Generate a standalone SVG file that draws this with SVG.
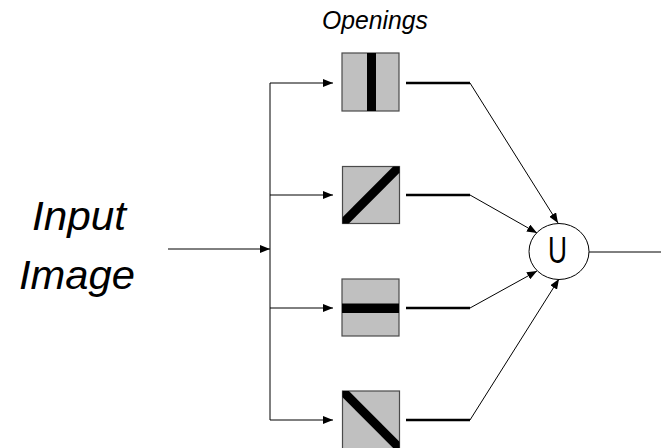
<svg xmlns="http://www.w3.org/2000/svg" width="661" height="448" viewBox="0 0 661 448">
<style>
.box{fill:#c0c0c0;stroke:#4a4a4a;stroke-width:1.2}
.bar{stroke:#000;stroke-width:9;fill:none}
.thin{stroke:#000;stroke-width:1;fill:none}
.thick{stroke:#000;stroke-width:2.5;fill:none}
.lbl{font-family:"Liberation Sans",Arial,sans-serif;font-style:italic;fill:#000}
</style>
<defs>
<marker id="ah" viewBox="0 0 10 8" refX="10" refY="4" markerWidth="10" markerHeight="8" markerUnits="userSpaceOnUse" orient="auto">
<path d="M0,0 L10,4 L0,8 z" fill="#000"/>
</marker>
<clipPath id="c2"><rect x="342.5" y="166.5" width="57" height="57"/></clipPath>
<clipPath id="c4"><rect x="342.5" y="391" width="57" height="57"/></clipPath>
</defs>
<text class="lbl" x="375" y="29" font-size="26" text-anchor="middle" textLength="106" lengthAdjust="spacingAndGlyphs">Openings</text>
<text class="lbl" x="79" y="230" font-size="40" text-anchor="middle" textLength="94" lengthAdjust="spacingAndGlyphs">Input</text>
<text class="lbl" x="77" y="289" font-size="40" text-anchor="middle" textLength="116" lengthAdjust="spacingAndGlyphs">Image</text>
<g id="connectors">
<line class="thin" x1="168" y1="249" x2="270" y2="249" marker-end="url(#ah)"/>
<line class="thin" x1="270" y1="83" x2="270" y2="420"/>
<line class="thin" x1="270" y1="83" x2="333" y2="83" marker-end="url(#ah)"/>
<line class="thin" x1="270" y1="195" x2="333" y2="195" marker-end="url(#ah)"/>
<line class="thin" x1="270" y1="308" x2="333" y2="308" marker-end="url(#ah)"/>
<line class="thin" x1="270" y1="420" x2="333" y2="420" marker-end="url(#ah)"/>
<line class="thick" x1="406" y1="83" x2="470" y2="83"/>
<line class="thick" x1="406" y1="195" x2="470" y2="195"/>
<line class="thick" x1="406" y1="308" x2="470" y2="308"/>
<line class="thick" x1="406" y1="420" x2="470" y2="420"/>
<line class="thin" x1="470" y1="83" x2="558" y2="223" marker-end="url(#ah)"/>
<line class="thin" x1="470" y1="195" x2="537" y2="233" marker-end="url(#ah)"/>
<line class="thin" x1="470" y1="308" x2="537" y2="271" marker-end="url(#ah)"/>
<line class="thin" x1="470" y1="420" x2="559" y2="279" marker-end="url(#ah)"/>
<line class="thin" x1="589" y1="252" x2="661" y2="252"/>
</g>
<g id="box1">
<rect class="box" x="342" y="53" width="57" height="58"/>
<rect x="367" y="53" width="9" height="58" fill="#000"/>
</g>
<g id="box2">
<rect class="box" x="342.5" y="166.5" width="57" height="57"/>
<line class="bar" x1="342.5" y1="223.5" x2="399.5" y2="166.5" clip-path="url(#c2)"/>
</g>
<g id="box3">
<rect class="box" x="342" y="279" width="57" height="57"/>
<rect x="342" y="303.5" width="57" height="9.5" fill="#000"/>
</g>
<g id="box4">
<rect class="box" x="342.5" y="391" width="57" height="58"/>
<line class="bar" x1="342.5" y1="391" x2="399.5" y2="448" clip-path="url(#c4)"/>
</g>
<g id="union">
<ellipse cx="559" cy="251.5" rx="30" ry="28" fill="#fff" stroke="#000" stroke-width="1"/>
<text x="557.5" y="263" font-family="'Liberation Sans',Arial,sans-serif" font-size="37" text-anchor="middle" textLength="19" lengthAdjust="spacingAndGlyphs">U</text>
</g>
</svg>
